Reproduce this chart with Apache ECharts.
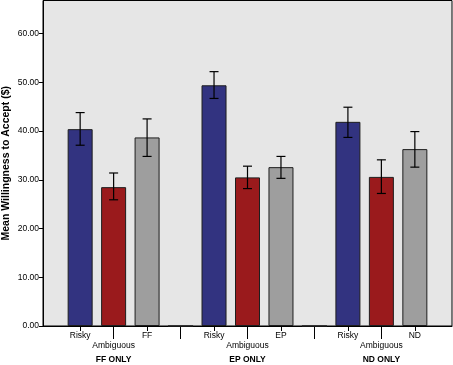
<!DOCTYPE html>
<html>
<head>
<meta charset="utf-8">
<script src="https://cdn.jsdelivr.net/npm/echarts@6/dist/echarts.min.js"></script>
<style>html,body{margin:0;padding:0;background:#fff}#c{width:453px;height:365px}</style>
</head>
<body>
<div id="c"></div>
<script>
const categories = ['Risky','Ambiguous','FF','','Risky','Ambiguous','EP','','Risky','Ambiguous','ND'];
const means   = [40.4, 28.5, 38.7, 0, 49.4, 30.5, 32.6, 0, 41.9, 30.6, 36.3];
const errLow  = [37.1, 25.9, 34.8, null, 46.7, 28.2, 30.3, null, 38.7, 27.2, 32.6];
const errHigh = [43.8, 31.4, 42.5, null, 52.2, 32.8, 34.8, null, 44.9, 34.1, 39.9];
const groups = ['FF ONLY','EP ONLY','ND ONLY'];
const groupPos = [1, 5, 9];
const yTicks = [0,10,20,30,40,50,60];
const palette = ['#323380', '#9a1a1c', '#9e9e9e', '#e6e6e6'];

const xMin = -1.11, xMax = 11.11;
const barData = means.map((v,i)=>({value:[i,v], itemStyle:{color: palette[i%4]}}));
const errData = means.map((v,i)=> errLow[i]==null ? null : [i, errLow[i], errHigh[i]]).filter(d=>d);

const chart = echarts.init(document.getElementById('c'), null, {renderer:'canvas'});
const lblFont = {fontFamily:'Liberation Sans, Arial, sans-serif', fontSize:8.5, color:'#000'};
chart.setOption({
  animation:false,
  grid:{left:43, right:1, top:0.5, bottom:39, show:true, backgroundColor:'#e6e6e6', borderColor:'#000', borderWidth:1,
        containLabel:false, outerBoundsMode:'none'},
  xAxis:[
    {type:'value', min:xMin, max:xMax, splitLine:{show:false},
     axisLine:{show:true, onZero:false, lineStyle:{color:'#000', width:1}},
     axisTick:{show:true, length:5, customValues:[0,2,4,6,8,10], lineStyle:{color:'#000'}},
     axisLabel:Object.assign({customValues:[0,2,4,6,8,10], margin:5, formatter:v=>categories[Math.round(v)]}, lblFont)},
    {type:'value', min:xMin, max:xMax, splitLine:{show:false}, position:'bottom',
     axisLine:{show:false, onZero:false},
     axisTick:{show:true, length:13, customValues:[1,3,5,7,9], lineStyle:{color:'#000'}},
     axisLabel:Object.assign({customValues:[1,5,9], margin:15, formatter:v=>categories[Math.round(v)]}, lblFont)},
    {type:'value', min:xMin, max:xMax, splitLine:{show:false}, position:'bottom',
     axisLine:{show:false, onZero:false}, axisTick:{show:false},
     axisLabel:Object.assign({customValues:groupPos, margin:29, fontWeight:'bold', formatter:v=>groups[groupPos.indexOf(Math.round(v))]}, lblFont)}
  ],
  yAxis:{type:'value', min:0, max:66.8, interval:10, splitLine:{show:false},
    axisLine:{show:true, onZero:false, lineStyle:{color:'#000'}},
    axisTick:{show:true, length:4, customValues:yTicks, lineStyle:{color:'#000'}},
    axisLabel:Object.assign({customValues:yTicks, margin:4, formatter:v=>v.toFixed(2)}, lblFont),
    name:'Mean Willingness to Accept ($)', nameLocation:'middle', nameGap:31, nameMoveOverlap:false,
    nameTextStyle:{fontFamily:'Liberation Sans, Arial, sans-serif', fontSize:10.5, fontWeight:'bold', color:'#000'}},
  series:[
    {type:'bar', xAxisIndex:0, barWidth:25, data:barData,
     itemStyle:{borderColor:'#1e1e1e', borderWidth:1}},
    {type:'custom', xAxisIndex:0, data:errData, z:10,
     renderItem:function(params, api){
       const x = api.value(0);
       const lo = api.coord([x, api.value(1)]);
       const hi = api.coord([x, api.value(2)]);
       const hw = 4.5;
       const st = {stroke:'#000', lineWidth:1.2};
       return {type:'group', children:[
         {type:'line', shape:{x1:lo[0], y1:lo[1], x2:hi[0], y2:hi[1]}, style:st},
         {type:'line', shape:{x1:lo[0]-hw, y1:lo[1], x2:lo[0]+hw, y2:lo[1]}, style:st},
         {type:'line', shape:{x1:hi[0]-hw, y1:hi[1], x2:hi[0]+hw, y2:hi[1]}, style:st}
       ]};
     }}
  ]
});
</script>
</body>
</html>
